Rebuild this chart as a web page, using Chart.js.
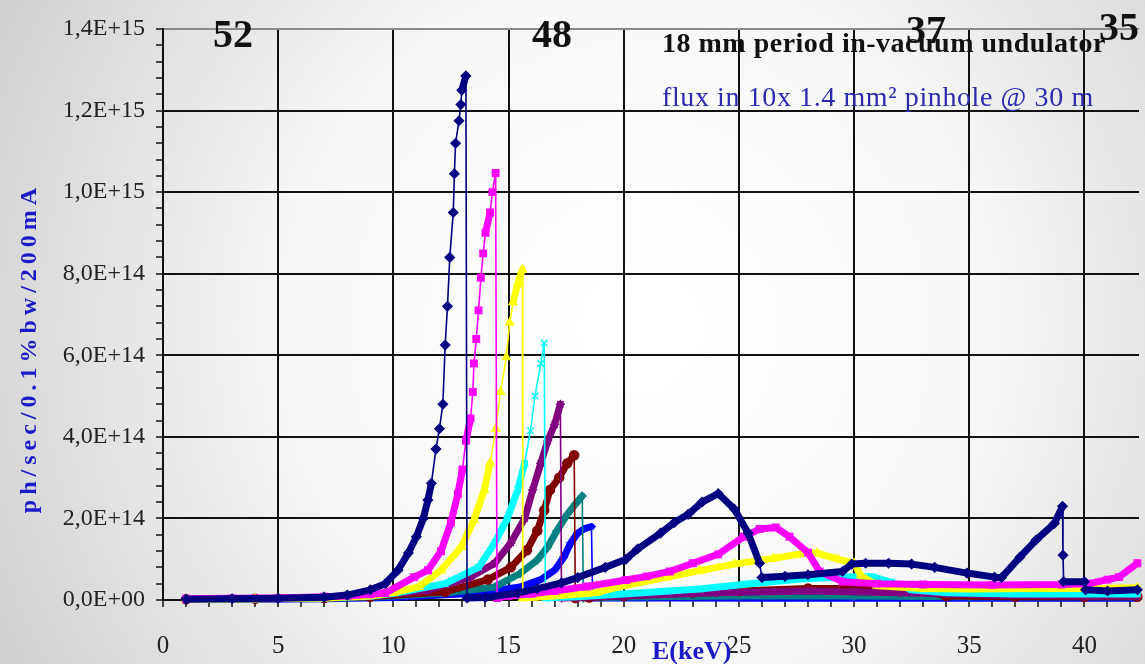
<!DOCTYPE html>
<html>
<head>
<meta charset="utf-8">
<title>18 mm period in-vacuum undulator</title>
<script src="https://cdn.jsdelivr.net/npm/chart.js@4/dist/chart.umd.min.js"></script>
<style>
  html, body { margin: 0; padding: 0; background: #fff; }
</style>
</head>
<body>
<canvas id="undulator_chart" width="1145" height="664"></canvas>
<script>
// flux values are in units of 1E+14 ph/sec/0.1%bw/200mA, energies in keV
var FLUX_UNIT = 1e14;

var energyNavy = [1, 3, 5, 7, 8, 9, 9.65, 10.2, 10.65, 11.0, 11.3, 11.5, 11.65, 11.85, 12.0, 12.15, 12.25, 12.35, 12.45, 12.6, 12.65, 12.7, 12.85, 12.93, 12.97, 13.15,
  13.2, 14.0, 15.4, 16.25, 17.3, 18.0, 19.2, 20.1, 20.6, 21.6, 22.2, 22.8, 23.4, 24.1, 24.8, 25.4, 25.9, 26.0, 27.0, 28.0, 29.5, 29.9, 30.5, 31.5, 32.5, 33.5, 34.9, 36.1, 36.4,
  37.2, 37.9, 38.7, 39.05, 39.07, 39.1, 40.0, 40.05, 41.0, 42.3];
var fluxNavy = [0.02, 0.03, 0.04, 0.07, 0.12, 0.25, 0.4, 0.73, 1.15, 1.55, 2.0, 2.45, 2.86, 3.7, 4.2, 4.8, 6.25, 7.2, 8.4, 9.5, 10.45, 11.2, 11.75, 12.15, 12.5, 12.85,
  0.05, 0.06, 0.17, 0.28, 0.42, 0.55, 0.8, 1.0, 1.25, 1.64, 1.9, 2.1, 2.4, 2.61, 2.23, 1.64, 0.9, 0.55, 0.58, 0.62, 0.7, 0.88, 0.9, 0.9, 0.88, 0.8, 0.66, 0.56, 0.55,
  1.05, 1.47, 1.88, 2.3, 1.1, 0.45, 0.45, 0.25, 0.22, 0.25];

var energyMagenta = [1, 3, 5, 7, 8, 9, 9.65, 10.9, 11.5, 12.07, 12.5, 12.8, 13.0, 13.15, 13.35, 13.45, 13.5, 13.6, 13.7, 13.8, 13.9, 14.0, 14.2, 14.3, 14.44,
  14.5, 15.0, 16.0, 17.0, 18.4, 20.1, 21.0, 22.0, 23.0, 24.1, 25.2, 25.9, 26.6, 27.2, 28.0, 28.5, 29.5, 31.0, 33.0, 36.0, 39.0, 40.2, 41.0, 41.5, 42.3];
var fluxMagenta = [0.03, 0.04, 0.05, 0.08, 0.1, 0.14, 0.17, 0.56, 0.73, 1.2, 1.9, 2.6, 3.2, 3.9, 4.45, 5.1, 5.8, 6.4, 7.1, 7.9, 8.5, 9.0, 9.5, 10.0, 10.47,
  0.05, 0.1, 0.15, 0.22, 0.33, 0.49, 0.58, 0.7, 0.9, 1.12, 1.55, 1.74, 1.78, 1.55, 1.16, 0.7, 0.45, 0.4, 0.38, 0.37, 0.38, 0.4, 0.5, 0.56, 0.9];

var energyYellow = [1, 4, 7, 9, 10, 11.1, 12.07, 12.95, 13.5, 13.95, 14.2, 14.45, 14.65, 14.9, 15.05, 15.2, 15.4, 15.6,
  15.62, 16, 17, 18.8, 20, 21.8, 23.3, 24.8, 26.5, 27.9, 28.4, 29.3, 30.0, 30.3, 31, 33, 35, 38, 40.6, 42.3];
var fluxYellow = [0.02, 0.03, 0.05, 0.1, 0.18, 0.32, 0.73, 1.3, 1.96, 2.7, 3.35, 4.2, 5.1, 5.95, 6.8, 7.3, 7.75, 8.1,
  0.05, 0.06, 0.1, 0.18, 0.35, 0.55, 0.72, 0.88, 1.02, 1.15, 1.15, 1.0, 0.9, 0.6, 0.35, 0.28, 0.27, 0.28, 0.28, 0.3];

var energyCyan = [1, 4, 7, 9, 10.1, 12.25, 13.7, 14.4, 14.95, 15.4, 15.7, 15.95, 16.15, 16.4, 16.55,
  16.6, 17, 18, 20, 23.3, 25.5, 27.8, 30.0, 30.8, 31.6, 32.5, 34, 37, 40, 42.3];
var fluxCyan = [0.02, 0.03, 0.05, 0.09, 0.17, 0.4, 0.8, 1.4, 2.0, 2.7, 3.35, 4.15, 5.0, 5.8, 6.3,
  0.05, 0.06, 0.08, 0.15, 0.27, 0.4, 0.52, 0.57, 0.57, 0.44, 0.25, 0.18, 0.15, 0.15, 0.15];

var energyPurple = [1, 4, 7, 9, 11.5, 13.35, 14.4, 15.1, 15.7, 16.05, 16.4, 16.7, 17.0, 17.25,
  17.3, 18, 20, 24, 28, 32, 36, 40, 42.3];
var fluxPurple = [0.02, 0.03, 0.05, 0.1, 0.24, 0.56, 0.9, 1.4, 2.0, 2.7, 3.35, 3.9, 4.3, 4.8,
  0.05, 0.06, 0.1, 0.18, 0.22, 0.18, 0.12, 0.1, 0.1];

var energyMaroon = [1, 4, 7, 9, 12.25, 14.1, 15.1, 15.8, 16.25, 16.55, 16.8, 17.2, 17.55, 17.85,
  17.9, 18.5, 20, 23, 25, 28, 31, 33, 34, 37, 40, 42.3];
var fluxMaroon = [0.02, 0.03, 0.05, 0.08, 0.2, 0.5, 0.8, 1.22, 1.7, 2.2, 2.7, 3.0, 3.35, 3.55,
  0.05, 0.06, 0.1, 0.18, 0.22, 0.28, 0.28, 0.22, 0.1, 0.08, 0.08, 0.08];

var energyTeal = [1, 4, 7, 9, 12.25, 14.4, 15.5, 16.25, 16.7, 17.1, 17.55, 17.9, 18.2,
  18.25, 19, 21, 25, 30, 35, 40, 42.3];
var fluxTeal = [0.02, 0.03, 0.04, 0.07, 0.17, 0.32, 0.65, 0.98, 1.3, 1.7, 2.1, 2.35, 2.55,
  0.05, 0.06, 0.08, 0.1, 0.1, 0.08, 0.08, 0.08];

var energyBlue = [1, 4, 7, 10, 13.7, 15.5, 16.4, 17.0, 17.4, 17.7, 18.0, 18.3, 18.6,
  18.65, 19, 22, 26, 30, 35, 40, 42.3];
var fluxBlue = [0.01, 0.02, 0.03, 0.06, 0.17, 0.32, 0.5, 0.73, 1.05, 1.4, 1.64, 1.75, 1.8,
  0.05, 0.05, 0.05, 0.04, 0.04, 0.04, 0.04, 0.04];

var xTickLabels = ['0', '5', '10', '15', '20', '25', '30', '35', '40'];
var yTickLabels = ['0,0E+00', '2,0E+14', '4,0E+14', '6,0E+14', '8,0E+14', '1,0E+15', '1,2E+15', '1,4E+15'];
var gapLabels = ['52', '48', '37', '35'];

function toPoints(energy, flux) {
  return energy.map(function (e, i) { return { x: e, y: flux[i] * FLUX_UNIT }; });
}

// thick band where the markers pile up, thin line on the steep parts
function bandWidth(c) {
  var dx = Math.abs(c.p1.x - c.p0.x);
  var dy = Math.abs(c.p1.y - c.p0.y);
  return dy > dx * 5.5 ? 1.6 : 7;
}

function series(energy, flux, color, marker) {
  return {
    data: toPoints(energy, flux),
    borderColor: color,
    backgroundColor: color,
    borderWidth: 2,
    borderCapStyle: 'round',
    borderJoinStyle: 'round',
    pointStyle: marker,
    pointRadius: 4.5,
    pointBorderWidth: 1.5,
    pointBorderColor: color,
    pointBackgroundColor: color,
    tension: 0,
    clip: 10,
    segment: { borderWidth: bandWidth }
  };
}

var background = {
  id: 'background',
  beforeDraw: function (chart) {
    var c = chart.ctx;
    var g = c.createRadialGradient(640, 330, 40, 640, 330, 760);
    g.addColorStop(0, '#ffffff');
    g.addColorStop(0.45, '#f6f6f6');
    g.addColorStop(1, '#cbcbcb');
    c.save();
    c.fillStyle = g;
    c.fillRect(0, 0, chart.width, chart.height);
    c.restore();
  }
};

var texts = {
  id: 'texts',
  afterDraw: function (chart) {
    var c = chart.ctx;
    var serif = '"Liberation Serif", "Times New Roman", serif';
    c.save();
    c.textBaseline = 'alphabetic';
    c.textAlign = 'left';

    c.fillStyle = '#111';
    c.font = 'bold 28px ' + serif;
    c.letterSpacing = '0.5px';
    c.fillText('18 mm period in-vacuum undulator', 662, 52);

    c.fillStyle = '#2b2bb0';
    c.font = '28px ' + serif;
    c.letterSpacing = '0.6px';
    c.fillText('flux in 10x 1.4 mm\u00b2 pinhole @ 30 m', 662, 106);

    c.fillStyle = '#111';
    c.font = 'bold 40px ' + serif;
    c.letterSpacing = '0px';
    c.fillText(gapLabels[0], 213, 47);
    c.fillText(gapLabels[1], 532, 47);
    c.fillText(gapLabels[2], 906, 43);
    c.fillText(gapLabels[3], 1099, 40);

    c.fillStyle = '#1a1ac8';
    c.font = 'bold 26px ' + serif;
    c.fillText('E(keV)', 652, 659);

    c.translate(36, 348);
    c.rotate(-Math.PI / 2);
    c.textAlign = 'center';
    c.font = 'bold 24px ' + serif;
    c.letterSpacing = '5px';
    c.fillText('ph/sec/0.1%bw/200mA', 0, 0);
    c.restore();
  }
};

var ctx = document.getElementById('undulator_chart');
var fluxChart = new Chart(ctx, {
  type: 'line',
  data: {
    datasets: [
      series(energyNavy, fluxNavy, '#000080', 'rectRot'),
      series(energyMagenta, fluxMagenta, '#ff00ff', 'rect'),
      series(energyYellow, fluxYellow, '#ffff00', 'triangle'),
      series(energyCyan, fluxCyan, '#00ffff', 'crossRot'),
      series(energyPurple, fluxPurple, '#800080', 'star'),
      series(energyMaroon, fluxMaroon, '#800000', 'circle'),
      series(energyTeal, fluxTeal, '#008080', 'cross'),
      series(energyBlue, fluxBlue, '#0000ff', 'line')
    ]
  },
  options: {
    responsive: false,
    animation: false,
    layout: { padding: { top: 29, right: 0, bottom: 0, left: 0 } },
    plugins: {
      legend: { display: false },
      tooltip: { enabled: false }
    },
    scales: {
      x: {
        type: 'linear',
        min: 0,
        max: 42.37,
        afterFit: function (scale) {
          scale.height = 64;
          scale.paddingLeft = 0;
          scale.paddingRight = 0;
        },
        border: { color: '#111', width: 2 },
        grid: {
          color: function (c) { return c.tick && c.tick.value % 5 === 0 ? '#111' : 'rgba(0,0,0,0)'; },
          lineWidth: 2,
          tickColor: '#111',
          tickWidth: 1.5,
          tickLength: 7
        },
        ticks: {
          stepSize: 1,
          includeBounds: false,
          autoSkip: false,
          maxRotation: 0,
          padding: 24,
          color: '#222',
          font: { family: '"Liberation Serif", "Times New Roman", serif', size: 25 },
          callback: function (value) {
            return value % 5 === 0 ? xTickLabels[value / 5] : '';
          }
        }
      },
      y: {
        min: 0,
        max: 1.4e15,
        afterFit: function (scale) {
          scale.width = 163;
          scale.paddingTop = 0;
          scale.paddingBottom = 0;
        },
        border: { color: '#111', width: 2 },
        grid: {
          color: function (c) {
            if (!c.tick) return 'rgba(0,0,0,0)';
            var v = c.tick.value;
            var i = Math.round(v / 2e14);
            if (Math.abs(v - i * 2e14) > 1e12) return 'rgba(0,0,0,0)';
            return i === 7 ? '#8a8a8a' : '#111';
          },
          lineWidth: 2,
          tickColor: '#111',
          tickWidth: 1.5,
          tickLength: 7
        },
        ticks: {
          stepSize: 4e13,
          autoSkip: false,
          padding: 11,
          color: '#222',
          font: { family: '"Liberation Serif", "Times New Roman", serif', size: 24 },
          callback: function (value) {
            var i = Math.round(value / 2e14);
            return Math.abs(value - i * 2e14) < 1e12 ? yTickLabels[i] : '';
          }
        }
      }
    }
  },
  plugins: [background, texts]
});
</script>
</body>
</html>
